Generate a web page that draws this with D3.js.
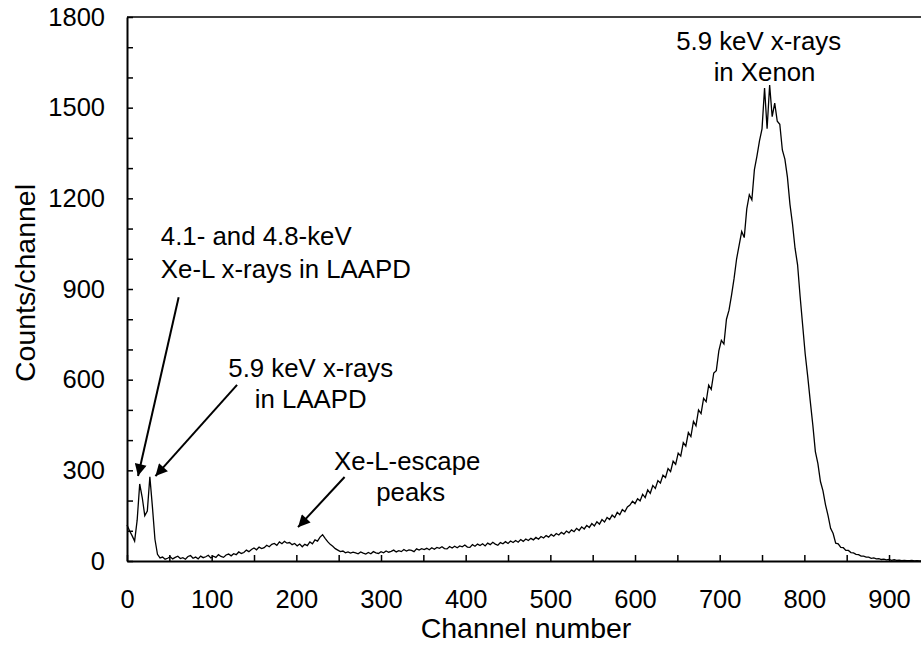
<!DOCTYPE html>
<html>
<head>
<meta charset="utf-8">
<script src="https://cdn.jsdelivr.net/npm/d3@7"></script>
<style>
  html, body { margin: 0; padding: 0; background: #fff; }
  svg { display: block; }
  text { font-family: "Liberation Sans", Arial, sans-serif; fill: #000; }
</style>
</head>
<body>
<svg id="chart" width="921" height="645"></svg>
<script>
// ---- Data ----
const channelStep = 3;          // one value every 3 channels, starting at channel 0
const counts = [
  119, 100, 84, 66, 135, 255, 210, 150, 165, 279,
  180, 72, 22, 10, 13, 6, 9, 14, 7, 12,
  16, 8, 11, 6, 15, 18, 9, 13, 7, 16,
  11, 14, 19, 10, 16, 12, 21, 15, 12, 20,
  23, 17, 24, 21, 30, 25, 28, 36, 31, 38,
  43, 37, 46, 41, 44, 52, 47, 55, 58, 52,
  63, 57, 65, 59, 61, 54, 58, 50, 56, 47,
  55, 51, 63, 57, 70, 66, 79, 87, 75, 64,
  55, 49, 41, 36, 31, 33, 27, 30, 26, 29,
  27, 24, 30, 26, 23, 28, 24, 31, 27, 25,
  31, 27, 33, 29, 32, 36, 30, 34, 31, 38,
  33, 37, 35, 31, 40, 36, 41, 38, 42, 37,
  44, 39, 45, 42, 47, 41, 40, 48, 43, 49,
  44, 50, 47, 53, 46, 45, 54, 49, 56, 51,
  57, 50, 59, 54, 62, 56, 52, 61, 57, 64,
  58, 66, 61, 68, 62, 71, 65, 73, 68, 75,
  70, 78, 72, 81, 76, 84, 79, 88, 82, 91,
  86, 95, 89, 99, 93, 103, 97, 108, 101, 113,
  106, 118, 111, 124, 116, 130, 122, 137, 129, 144,
  137, 152, 144, 161, 153, 170, 163, 179, 185, 198,
  190, 206, 199, 221, 210, 235, 224, 250, 240, 266,
  258, 284, 276, 306, 296, 330, 320, 357, 347, 392,
  380, 425, 412, 462, 447, 500, 488, 538, 527, 582,
  568, 622, 630, 695, 730, 718, 800, 830, 880, 935,
  1000, 1045, 1090, 1070, 1165, 1212, 1195, 1295, 1340, 1390,
  1430, 1565, 1430, 1575, 1470, 1515, 1455, 1445, 1360, 1330,
  1270, 1180, 1115, 1035, 980, 875, 780, 685, 610, 528,
  450, 362, 322, 263, 232, 186, 150, 108, 91, 59,
  57, 45, 44, 35, 35, 28, 27, 22, 21, 16,
  16, 13, 13, 9, 10, 7, 8, 5, 6, 4,
  5, 2, 4, 2, 3, 1, 2, 1, 1, 2,
  0, 1, 0, 1
];
const xTickValues = [0, 100, 200, 300, 400, 500, 600, 700, 800, 900];
const xMinorTicks = [50, 150, 250, 350, 450, 550, 650, 750, 850];
const yTickValues = [0, 300, 600, 900, 1200, 1500, 1800];
const yMinorTicks = [100, 200, 400, 500, 700, 800, 1000, 1100, 1300, 1400, 1600, 1700];
const xTitle = "Channel number";
const yTitle = "Counts/channel";

// Annotations: text lines and arrows, anchored in data coordinates
const annotationLines = [
  { text: "4.1- and 4.8-keV", ch: 40, v: 1046, anchor: "start" },
  { text: "Xe-L x-rays in LAAPD", ch: 40, v: 936, anchor: "start" },
  { text: "5.9 keV x-rays", ch: 217, v: 609, anchor: "middle" },
  { text: "in LAAPD", ch: 217, v: 506, anchor: "middle" },
  { text: "Xe-L-escape", ch: 331, v: 301, anchor: "middle" },
  { text: "peaks", ch: 335, v: 199, anchor: "middle" },
  { text: "5.9 keV x-rays", ch: 746, v: 1691, anchor: "middle" },
  { text: "in Xenon", ch: 753, v: 1588, anchor: "middle" }
];
const arrows = [
  { from: [61, 873], to: [13, 281] },
  { from: [130, 583], to: [33.6, 281] },
  { from: [257, 278], to: [202, 112] }
];

(function () {
  // ---- Layout ----
  const svg = d3.select("#chart");
  const mLeft = 127, mRight = 921.2, mTop = 17, mBottom = 561;
  const x = d3.scaleLinear().domain([0, 938]).range([mLeft, mRight]);
  const y = d3.scaleLinear().domain([0, 1800]).range([mBottom, mTop]);
  const tickFont = 25.5, titleFont = 28.5, annotFont = 25.8;

  svg.append("defs").append("marker")
    .attr("id", "arrowhead")
    .attr("viewBox", "0 0 10 10")
    .attr("refX", 10).attr("refY", 5)
    .attr("markerUnits", "userSpaceOnUse")
    .attr("markerWidth", 16).attr("markerHeight", 12)
    .attr("orient", "auto")
    .append("path").attr("d", "M0,0 L10,5 L0,10 Z").attr("fill", "#000");

  // Top frame line
  svg.append("line")
    .attr("x1", mLeft).attr("x2", mRight).attr("y1", mTop).attr("y2", mTop)
    .attr("stroke", "#000").attr("stroke-width", 1.5);

  // Spectrum line
  const line = d3.line()
    .x((d, i) => x(i * channelStep))
    .y(d => y(d));
  svg.append("path")
    .datum(counts)
    .attr("d", line)
    .attr("fill", "none")
    .attr("stroke", "#000")
    .attr("stroke-width", 1.3)
    .attr("stroke-linejoin", "miter");

  const fmt = d3.format("d");

  // X axis
  const xAxisG = svg.append("g").attr("transform", `translate(0,${mBottom})`);
  xAxisG.call(d3.axisBottom(x).tickValues(xTickValues).tickFormat(fmt).tickSizeInner(-6).tickSizeOuter(0).tickPadding(29));
  const xMinorG = xAxisG.append("g").call(d3.axisBottom(x).tickValues(xMinorTicks).tickSizeInner(-6).tickSizeOuter(0).tickFormat(""));
  xMinorG.select(".domain").remove();
  xAxisG.selectAll(".domain").attr("stroke-width", 2);
  xAxisG.selectAll(".tick line").attr("stroke-width", 1.5);
  xAxisG.selectAll("text").attr("font-size", tickFont).attr("font-family", "Liberation Sans, Arial, sans-serif");

  // Y axis
  const yAxisG = svg.append("g").attr("transform", `translate(${mLeft},0)`);
  yAxisG.call(d3.axisLeft(y).tickValues(yTickValues).tickFormat(fmt).tickSizeInner(-6).tickSizeOuter(0).tickPadding(22));
  const yMinorG = yAxisG.append("g").call(d3.axisLeft(y).tickValues(yMinorTicks).tickSizeInner(-6).tickSizeOuter(0).tickFormat(""));
  yMinorG.select(".domain").remove();
  yAxisG.selectAll(".domain").attr("stroke-width", 2);
  yAxisG.selectAll(".tick line").attr("stroke-width", 1.5);
  yAxisG.selectAll("text").attr("font-size", tickFont).attr("font-family", "Liberation Sans, Arial, sans-serif");

  // Axis titles
  svg.append("text")
    .attr("x", 526).attr("y", 638)
    .attr("text-anchor", "middle")
    .attr("font-size", titleFont)
    .text(xTitle);
  svg.append("text")
    .attr("transform", `translate(35,283) rotate(-90)`)
    .attr("text-anchor", "middle")
    .attr("font-size", titleFont)
    .text(yTitle);

  // Annotation text
  svg.selectAll("text.annot")
    .data(annotationLines)
    .join("text")
    .attr("class", "annot")
    .attr("x", d => x(d.ch))
    .attr("y", d => y(d.v))
    .attr("text-anchor", d => d.anchor)
    .attr("font-size", annotFont)
    .text(d => d.text);

  // Arrows
  svg.selectAll("line.arrow")
    .data(arrows)
    .join("line")
    .attr("class", "arrow")
    .attr("x1", d => x(d.from[0])).attr("y1", d => y(d.from[1]))
    .attr("x2", d => x(d.to[0])).attr("y2", d => y(d.to[1]))
    .attr("stroke", "#000").attr("stroke-width", 2)
    .attr("marker-end", "url(#arrowhead)");
})();
</script>
</body>
</html>
